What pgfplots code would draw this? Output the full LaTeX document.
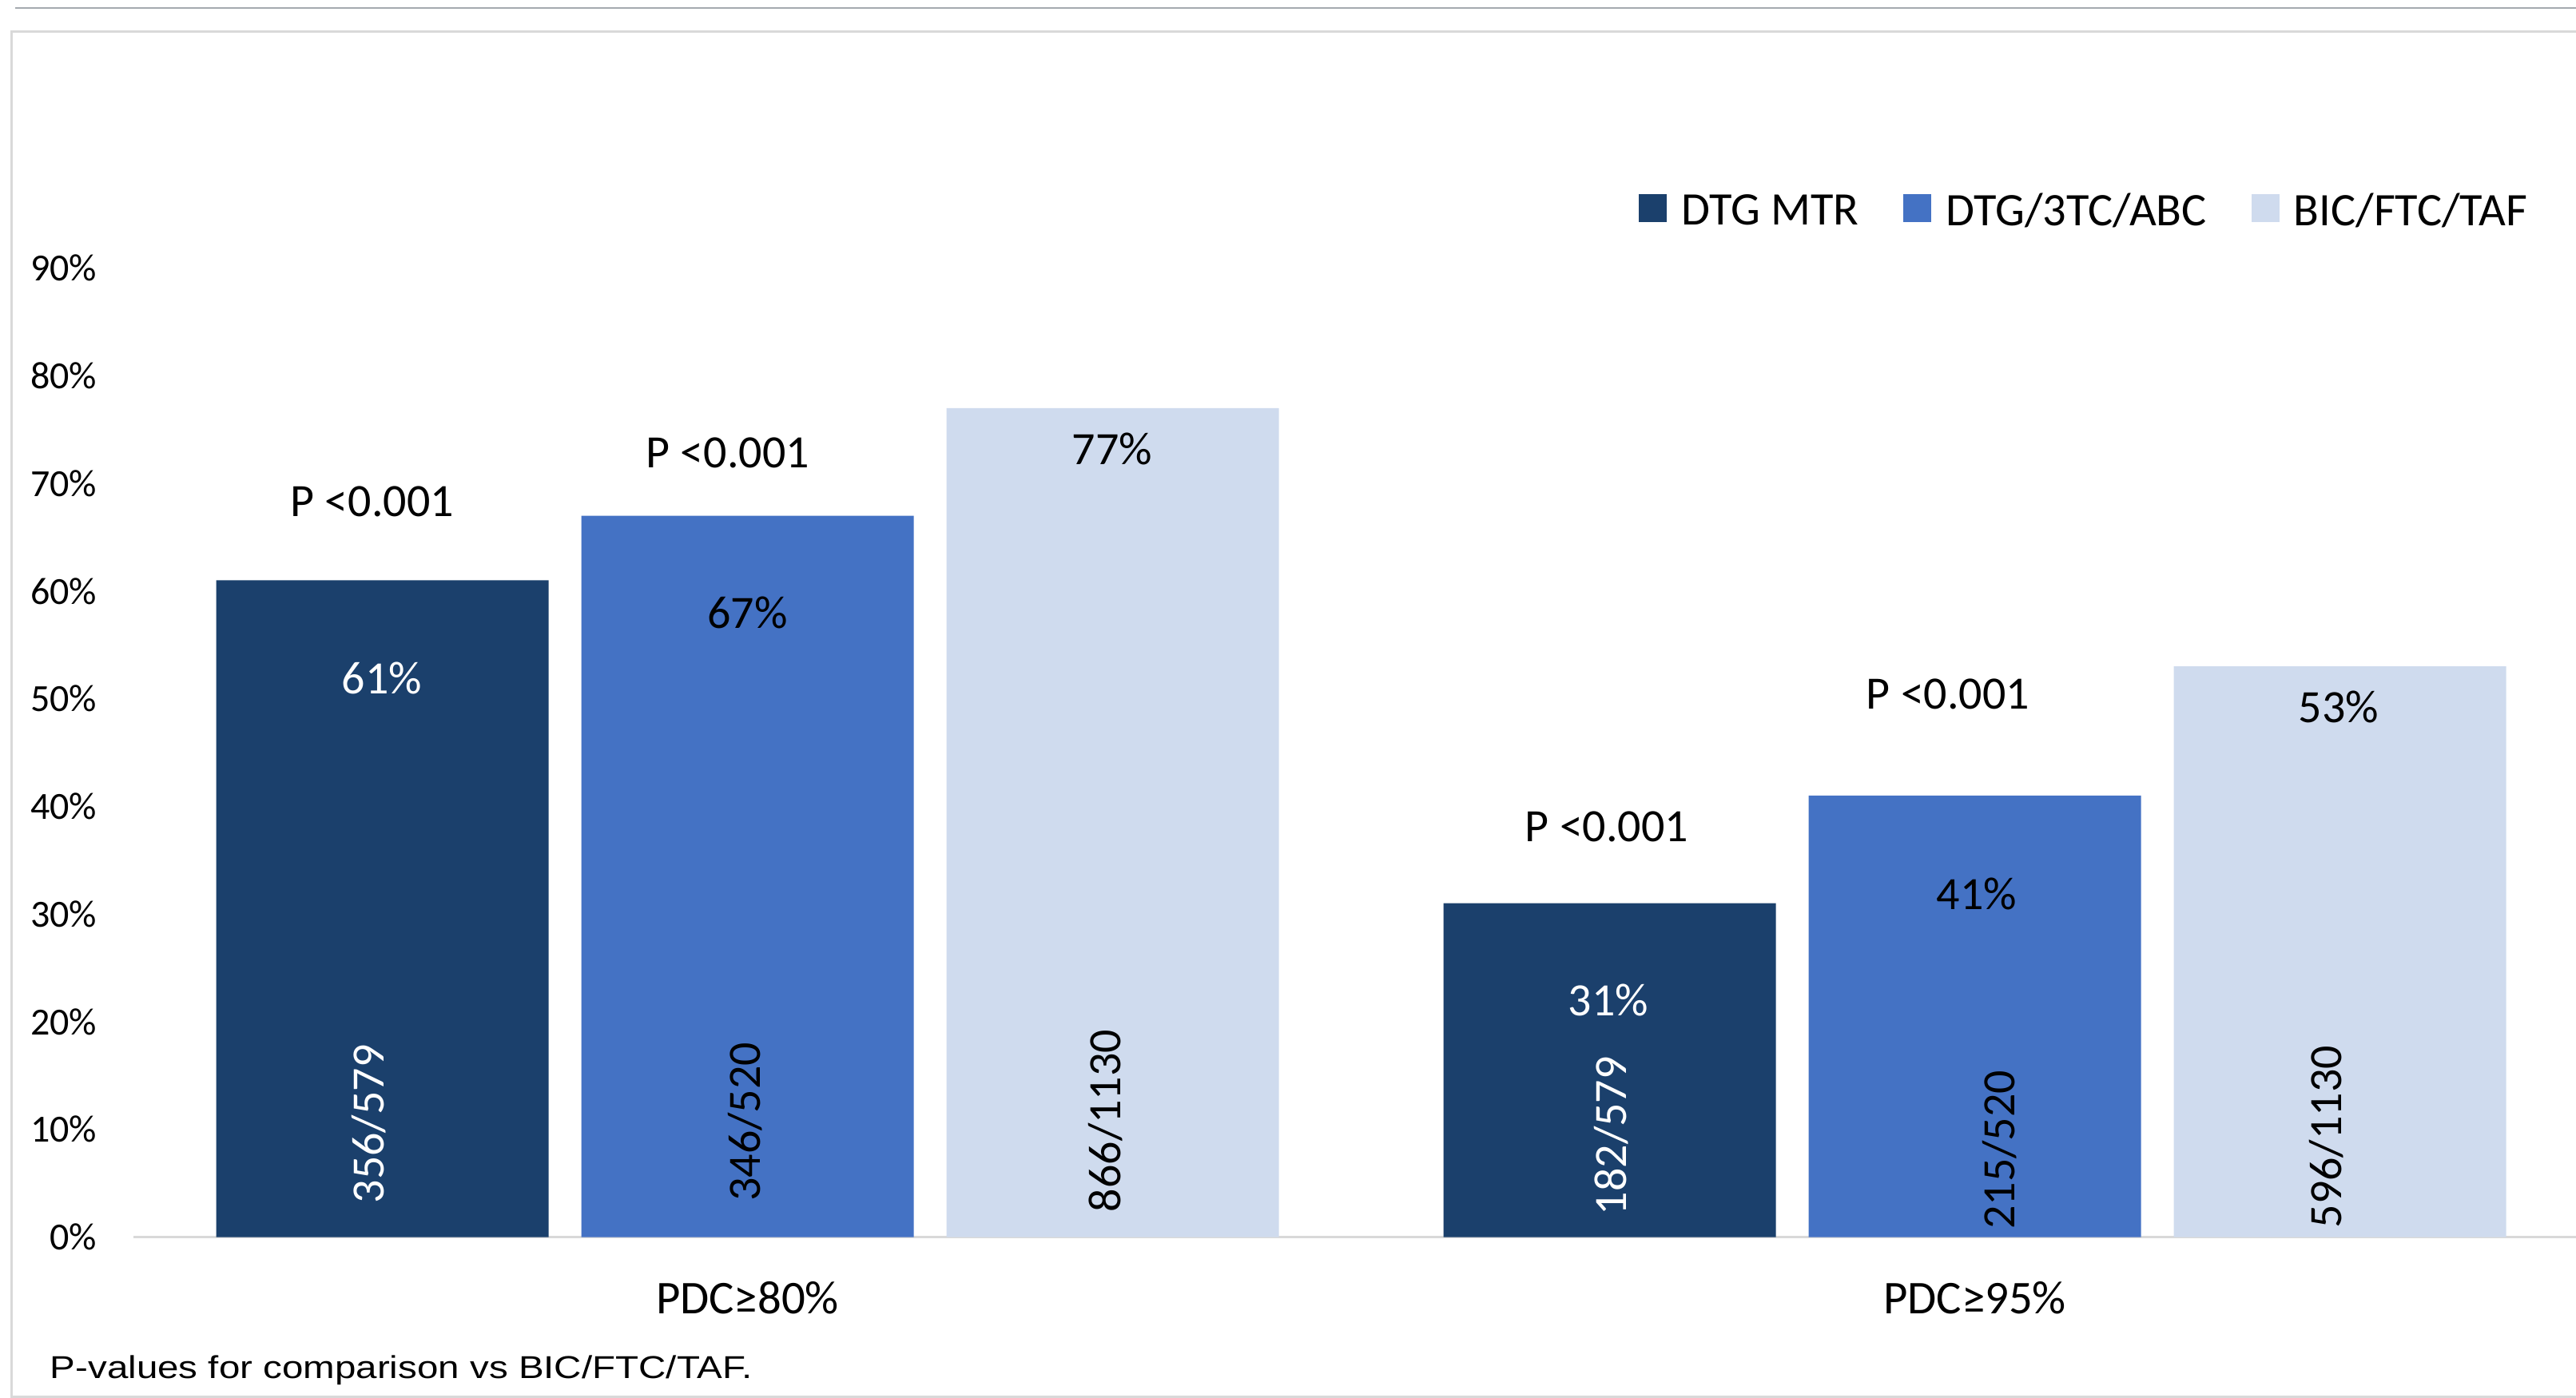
\documentclass[border=0pt]{standalone}
\usepackage{fontspec}
\setmainfont{Carlito}
\newfontfamily\notefont{Liberation Sans}
\usepackage{graphicx}
\usepackage{pgfplots}
\pgfplotsset{compat=1.18}

\definecolor{dtgmtr}{RGB}{27,64,108}
\definecolor{dtgabc}{RGB}{68,114,196}
\definecolor{bicftc}{RGB}{207,219,238}
\definecolor{framegray}{RGB}{217,217,217}
\definecolor{topgray}{RGB}{165,170,175}

\newcommand\lab{\fontsize{14.5}{17}\selectfont}
\pgfplotsset{sq legend/.style={legend image code/.code={\fill[##1] (0pt,-3.25pt) rectangle (8.75pt,5.5pt);}}}

\begin{document}
\begin{tikzpicture}
\path[use as bounding box] (0,0) rectangle (806pt,437.25pt);
\clip (0,0) rectangle (806pt,437.25pt);
% page rule and chart frame
\draw[topgray, line width=0.6pt] (4.75pt,434.75pt) -- (812pt,434.75pt);
\draw[framegray, line width=0.75pt] (812pt,427.25pt) -- (3.5pt,427.25pt) -- (3.5pt,0.25pt) -- (812pt,0.25pt);

\begin{axis}[
  at={(41.875pt,50.125pt)}, anchor=south west,
  scale only axis, width=764.16pt, height=303.25pt,
  xmin=-0.5, xmax=1.49, ymin=0, ymax=90,
  axis line style={draw=none}, tick style={draw=none},
  ytick={0,10,...,90},
  yticklabels={0\%,10\%,20\%,30\%,40\%,50\%,60\%,70\%,80\%,90\%},
  yticklabel style={font=\fontsize{12}{14}\selectfont, inner sep=0pt, anchor=east, xshift=-11.4pt},
  xtick={0,1}, xticklabels={PDC≥80\%,PDC≥95\%},
  xticklabel style={font=\fontsize{14.7}{17}\selectfont, inner sep=0pt, anchor=north, yshift=-9.5pt},
  ybar=10.25pt, bar width=104pt,
  legend columns=3,
  legend style={at={(0.6162,1.0581)}, anchor=west, draw=none, fill=none,
    inner sep=0pt, outer sep=0pt, nodes={inner sep=0pt},
    font=\fontsize{14.6}{17}\selectfont,
    /tikz/every odd column/.append style={column sep=4.5pt},
    /tikz/every even column/.append style={column sep=14pt}},
  clip=false,
]
\draw[framegray, line width=0.75pt] (axis cs:-0.5,0) -- (axis cs:1.49,0);

\addplot[fill=dtgmtr, draw=none, sq legend] coordinates {(0,61) (1,31)};
\addplot[fill=dtgabc, draw=none, sq legend] coordinates {(0,67) (1,41)};
\addplot[fill=bicftc, draw=none, sq legend] coordinates {(0,77) (1,53)};
\legend{DTG MTR,DTG/3TC/ABC,BIC/FTC/TAF}

% value labels
\node[font=\lab, text=white] at (axis cs:-0.2979,51.9) {61\%};
\node[font=\lab] at (axis cs:0,58.0) {67\%};
\node[font=\lab] at (axis cs:0.2972,73.2) {77\%};
\node[font=\lab, text=white] at (axis cs:0.7015,22.0) {31\%};
\node[font=\lab] at (axis cs:1.0016,31.9) {41\%};
\node[font=\lab] at (axis cs:1.2965,49.2) {53\%};

% p-values
\node[font=\lab] at (axis cs:-0.3057,68.3) {P <0.001};
\node[font=\lab] at (axis cs:-0.0160,72.8) {P <0.001};
\node[font=\lab] at (axis cs:0.7002,38.1) {P <0.001};
\node[font=\lab] at (axis cs:0.9782,50.4) {P <0.001};

% counts
\node[font=\lab, rotate=90, text=white] at (axis cs:-0.3083,10.5) {356/579};
\node[font=\lab, rotate=90] at (axis cs:-0.0016,10.7) {346/520};
\node[font=\lab, rotate=90] at (axis cs:0.2920,10.8) {866/1130};
\node[font=\lab, rotate=90, text=white] at (axis cs:0.7041,9.4) {182/579};
\node[font=\lab, rotate=90] at (axis cs:1.0199,8.1) {215/520};
\node[font=\lab, rotate=90] at (axis cs:1.2868,9.3) {596/1130};
\end{axis}

\node[anchor=base west, inner sep=0pt, font=\notefont\fontsize{9.9}{12}\selectfont] at (15.5pt,6pt) {\scalebox{1.2}[1]{P-values for comparison vs BIC/FTC/TAF.}};
\end{tikzpicture}
\end{document}
